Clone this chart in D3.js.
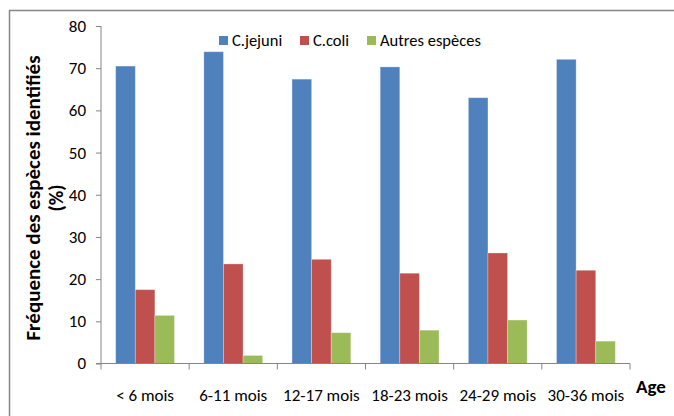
<!DOCTYPE html>
<html><head><meta charset="utf-8">
<script src="https://cdn.jsdelivr.net/npm/d3@7/dist/d3.min.js"></script>
<style>
body{margin:0;background:#fff;}
svg{display:block;}
text{font-family:Carlito,Lato,sans-serif;fill:#000;}
</style></head><body>
<svg id="c" width="674" height="416"></svg>
<script>
const categories = ["< 6 mois","6-11 mois","12-17 mois","18-23 mois","24-29 mois","30-36 mois"];
const seriesNames = ["C.jejuni","C.coli","Autres espèces"];
const jejuni = [70.5, 73.9, 67.4, 70.3, 63.0, 72.1];
const coli = [17.5, 23.6, 24.7, 21.4, 26.2, 22.1];
const autres = [11.4, 1.9, 7.3, 7.9, 10.3, 5.3];
const yTicks = [0,10,20,30,40,50,60,70,80];
const colors = ["#4F81BD","#C0504D","#9BBB59"];
const yTitle1 = "Fréquence des espèces identifiés";
const yTitle2 = "(%)";
const xTitle = "Age";

const series = [jejuni, coli, autres];
const svg = d3.select("#c");
const axisColor = "#868686";

// outer frame
svg.append("rect").attr("x",9.5).attr("y",10.5).attr("width",700).attr("height",500)
  .attr("fill","none").attr("stroke",axisColor).attr("stroke-width",1.5);

const x0 = d3.scaleBand().domain(categories).range([101,630]).paddingInner(0).paddingOuter(0);
const x1 = d3.scaleBand().domain(seriesNames).range([0,x0.bandwidth()]).paddingInner(0).paddingOuter(0.75);
const y = d3.scaleLinear().domain([0,80]).range([363.5,26]);

// bars
seriesNames.forEach((s,si)=>{
  svg.append("g").selectAll("rect").data(categories).join("rect")
    .attr("x",c=>x0(c)+x1(s))
    .attr("y",(c,i)=>y(series[si][i]))
    .attr("width",x1.bandwidth())
    .attr("height",(c,i)=>y(0)-y(series[si][i]))
    .attr("fill",colors[si])
    .attr("stroke","rgba(255,255,255,0.35)").attr("stroke-width",0.8);
});

// y axis
const ya = svg.append("g").attr("transform","translate(101,0)")
  .call(d3.axisLeft(y).tickValues(yTicks).tickSize(5).tickPadding(10).tickFormat(d3.format("d")));
ya.select(".domain").attr("stroke",axisColor).attr("d","M0,"+y(80)+"V"+y(0));
ya.selectAll(".tick line").attr("stroke",axisColor);
ya.selectAll(".tick text").attr("font-size",17).attr("font-family",null).attr("fill","#000");

// x axis
const xa = svg.append("g").attr("transform","translate(0,"+y(0)+")");
xa.append("line").attr("x1",x0.range()[0]-5).attr("x2",x0.range()[1]).attr("stroke",axisColor);
const bounds = categories.map(c=>x0(c)).concat([x0.range()[1]]);
xa.selectAll("line.tk").data(bounds).join("line").attr("class","tk")
  .attr("x1",d=>d).attr("x2",d=>d).attr("y1",0).attr("y2",6).attr("stroke",axisColor);
xa.selectAll("text").data(categories).join("text")
  .attr("x",c=>x0(c)+x0.bandwidth()/2).attr("y",37.5)
  .attr("text-anchor","middle").attr("font-size",17).text(c=>c);

// axis titles
svg.append("text").attr("transform","translate(40,198) rotate(-90)")
  .attr("text-anchor","middle").attr("font-size",21).attr("font-weight","bold").text(yTitle1);
svg.append("text").attr("transform","translate(63,198) rotate(-90)")
  .attr("text-anchor","middle").attr("font-size",20).attr("font-weight","bold").text(yTitle2);
svg.append("text").attr("x",636).attr("y",393).attr("font-size",19).attr("font-weight","bold").text(xTitle);

// legend
const legX = [219, 300, 367];
seriesNames.forEach((s,i)=>{
  svg.append("rect").attr("x",legX[i]).attr("y",36).attr("width",9).attr("height",9).attr("fill",colors[i]);
  svg.append("text").attr("x",legX[i]+13).attr("y",46).attr("font-size",16.5).text(s);
});
</script></body></html>
